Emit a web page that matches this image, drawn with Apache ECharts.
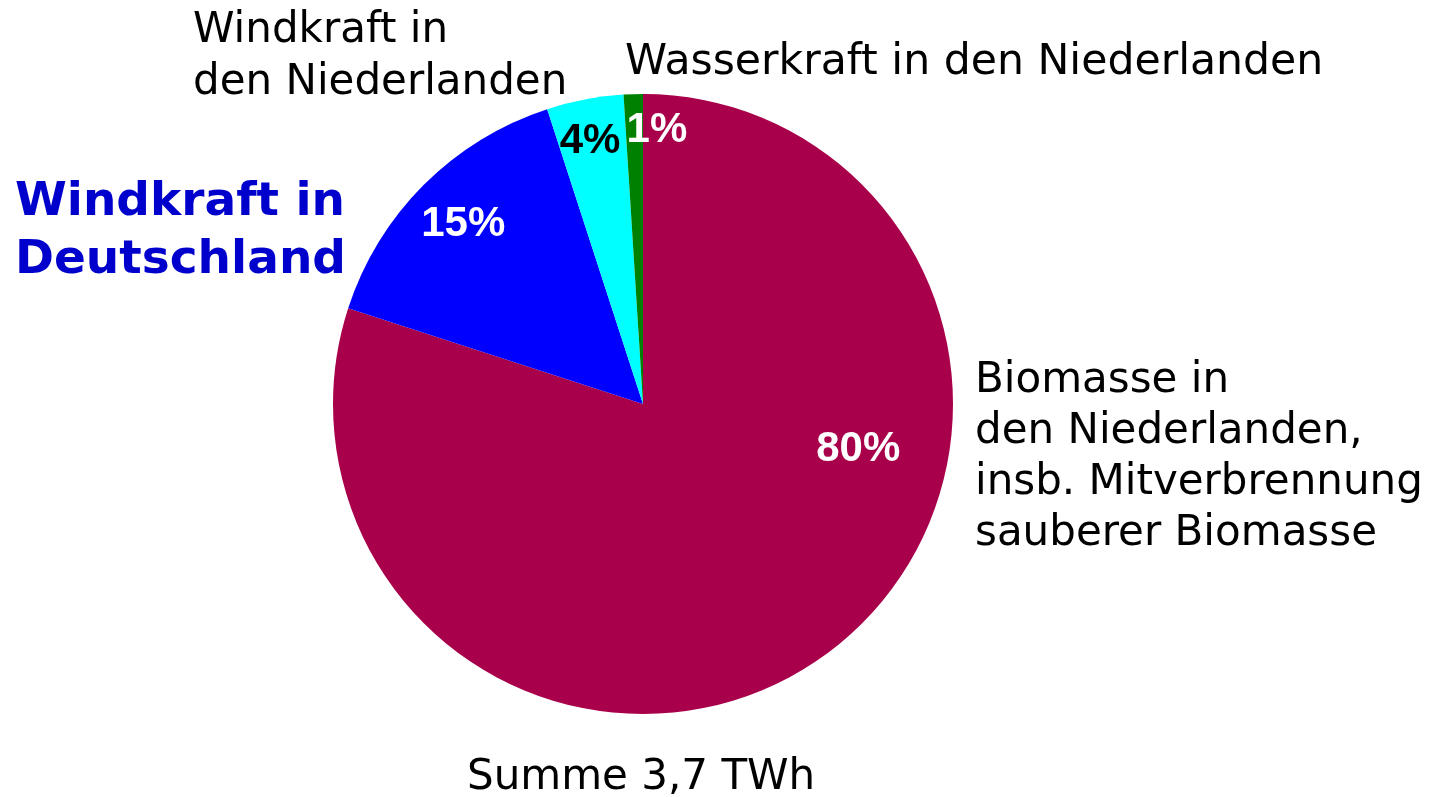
<!DOCTYPE html>
<html><head><meta charset="utf-8">
<script src="https://cdn.jsdelivr.net/npm/echarts@6/dist/echarts.min.js"></script>
<style>html,body{margin:0;padding:0;background:#fff}#c{width:1446px;height:797px}</style>
</head><body><div id="c"></div>
<script>
const categories = ['Biomasse in\nden Niederlanden,\ninsb. Mitverbrennung\nsauberer Biomasse', 'Windkraft in\nDeutschland', 'Windkraft in\nden Niederlanden', 'Wasserkraft in den Niederlanden'];
const values = [80, 15, 4, 1];
const percentLabels = ['80%', '15%', '4%', '1%'];
const totalLabel = 'Summe 3,7 TWh';

const colors = ['#A8004A', '#0000FF', '#00FFFF', '#008000'];
const pctColors = ['#fff', '#fff', '#000', '#fff'];
// label placement: angle (deg clockwise from top) and radius fraction
const pctPlace = [[102, 0.71], [315, 0.82], [348.6, 0.865], [2.9, 0.885]];
const cx = 643, cy = 404, R = 310;

const chart = echarts.init(document.getElementById('c'));
const reg = 'DejaVu Sans';
chart.setOption({
  animation: false,
  title: {
    text: totalLabel, left: 462, top: 752,
    textStyle: {fontFamily: reg, fontWeight: 'normal', fontSize: 42, color: '#000'}
  },
  series: [{
    type: 'pie',
    center: [cx, cy],
    radius: [0, R],
    startAngle: 90,
    clockwise: true,
    silent: true,
    data: categories.map((n, i) => ({
      name: n, value: values[i],
      itemStyle: {color: colors[i]},
      label: {color: pctColors[i]}
    })),
    label: {
      show: true, position: 'inside',
      formatter: p => percentLabels[p.dataIndex],
      fontFamily: 'Liberation Sans, Arial',
      fontWeight: 'bold', fontSize: 42
    },
    labelLine: {show: false},
    labelLayout: p => {
      const [a, f] = pctPlace[p.dataIndex];
      const t = a * Math.PI / 180;
      return {
        x: cx + Math.sin(t) * R * f,
        y: cy - Math.cos(t) * R * f,
        align: 'center', verticalAlign: 'middle'
      };
    }
  }],
  graphic: [
    {type: 'text', left: 975, top: 356, style: {text: categories[0], font: '42px "DejaVu Sans"', lineHeight: 51, fill: '#000'}},
    {type: 'text', right: 1446 - 346, top: 174, style: {text: categories[1], font: 'bold 47px "DejaVu Sans"', lineHeight: 58, fill: '#0000CC', align: 'left'}},
    {type: 'text', left: 193, top: 5, style: {text: categories[2], font: '42px "DejaVu Sans"', lineHeight: 52, fill: '#000'}},
    {type: 'text', left: 625, top: 37, style: {text: categories[3], font: '42.6px "DejaVu Sans"', lineHeight: 52, fill: '#000'}}
  ]
});
</script></body></html>
